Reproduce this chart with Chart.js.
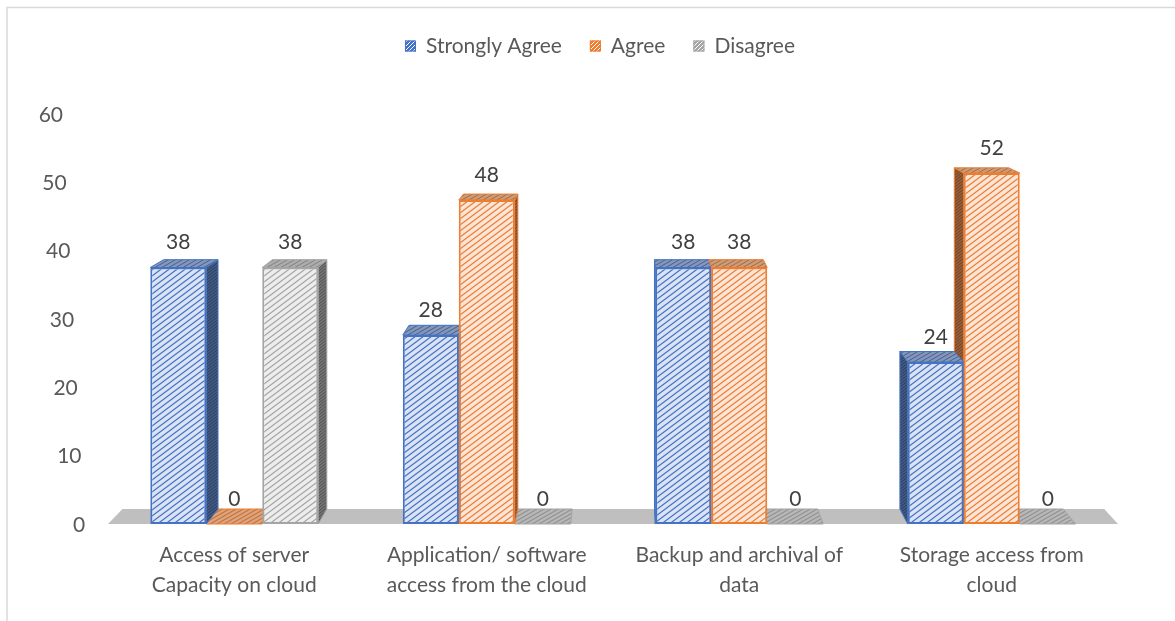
<!DOCTYPE html>
<html>
<head>
<meta charset="utf-8">
<title>Cloud usage survey</title>
<script src="https://cdn.jsdelivr.net/npm/chart.js@4.4.1/dist/chart.umd.min.js"></script>
<style>
  html, body { margin: 0; padding: 0; background: #fff; }
  canvas { display: block; }
</style>
</head>
<body>
<canvas id="surveyChart" width="1175" height="621"></canvas>
<script>
const categories = [
  ["Access of server", "Capacity on cloud"],
  ["Application/ software", "access from the cloud"],
  ["Backup and archival of", "data"],
  ["Storage access from", "cloud"],
];
const seriesNames = ["Strongly Agree", "Agree", "Disagree"];
const stronglyAgree = [38, 28, 38, 24];
const agree = [0, 48, 38, 52];
const disagree = [38, 0, 0, 0];
const yTicks = [0, 10, 20, 30, 40, 50, 60];

const FONT = "Lato, 'Liberation Sans', sans-serif";
const FONT_SIZE = 21;
const TEXT = "#595959";
const LABEL = "#404040";
const lineColors = ["#4472C4", "#ED7D31", "#A5A5A5"];
const faceColors = ["#DAE3F3", "#FBE5D6", "#EDEDED"];

// back face of every column is pulled toward this point
const VP = { x: 626, y: -12 };
const DEPTH = 0.028;

function mix(a, b, t) {
  const pa = [1, 3, 5].map((k) => parseInt(a.substr(k, 2), 16));
  const pb = [1, 3, 5].map((k) => parseInt(b.substr(k, 2), 16));
  return "rgb(" + pa.map((v, k) => Math.round(v * (1 - t) + pb[k] * t)).join(",") + ")";
}

// diagonal hatch tile, lines running bottom-left to top-right
function hatch(bg, fg, w, h, lw) {
  const c = document.createElement("canvas");
  c.width = w;
  c.height = h;
  const g = c.getContext("2d");
  g.fillStyle = bg;
  g.fillRect(0, 0, w, h);
  g.strokeStyle = fg;
  g.lineWidth = lw;
  g.beginPath();
  g.moveTo(0, h); g.lineTo(w, 0);
  g.moveTo(-w / 2, h / 2); g.lineTo(w / 2, -h / 2);
  g.moveTo(w / 2, 1.5 * h); g.lineTo(1.5 * w, h / 2);
  g.stroke();
  return g.createPattern(c, "repeat");
}

const fronts = lineColors.map((c, i) => hatch(faceColors[i], c, 8, 6, 1.2));
const sides = lineColors.map((c) => hatch(mix(c, "#404040", 0.5), mix(c, "#202020", 0.6), 4, 3, 1));
const tops = lineColors.map((c) => hatch(mix(c, "#b0b0b0", 0.6), mix(c, "#404040", 0.35), 7, 4, 1));
const slabs = lineColors.map((c) => hatch(mix(c, "#c8c8c8", 0.55), mix(c, "#505050", 0.2), 7, 4, 1.2));
const keys = lineColors.map((c) => hatch(c, "#ffffff", 4, 4, 1));

function back(x, y) {
  return [x + (VP.x - x) * DEPTH, y + (VP.y - y) * DEPTH];
}

function poly(ctx, pts, fill, stroke) {
  ctx.beginPath();
  pts.forEach((p, k) => (k ? ctx.lineTo(p[0], p[1]) : ctx.moveTo(p[0], p[1])));
  ctx.closePath();
  ctx.fillStyle = fill;
  ctx.fill();
  if (stroke) {
    ctx.lineWidth = 1;
    ctx.strokeStyle = stroke;
    ctx.stroke();
  }
}

function columns(chart) {
  const cols = [];
  chart.data.datasets.forEach((ds, i) => {
    chart.getDatasetMeta(i).data.forEach((bar, j) => {
      const p = bar.getProps(["x", "y", "base", "width"], true);
      cols.push({ i, x: p.x, l: p.x - p.width / 2, r: p.x + p.width / 2, t: p.y, b: p.base, v: ds.data[j] });
    });
  });
  return cols;
}

const columns3d = {
  id: "columns3d",
  beforeDraw(chart) {
    const ctx = chart.ctx;
    ctx.save();
    ctx.strokeStyle = "#D9D9D9";
    ctx.lineWidth = 1.5;
    ctx.beginPath();
    ctx.moveTo(7, chart.height);
    ctx.lineTo(7, 7.5);
    ctx.lineTo(chart.width, 7.5);
    ctx.stroke();
    ctx.restore();
  },
  beforeDatasetsDraw(chart) {
    const ctx = chart.ctx;
    const area = chart.chartArea;
    const y0 = chart.scales.y.getPixelForValue(0);
    ctx.save();
    // floor
    poly(ctx, [[area.left, y0], [area.right, y0], back(area.right, y0), back(area.left, y0)], "#BFBFBF");

    const cols = columns(chart);
    const top = (c) => [[c.l, c.t], [c.r, c.t], back(c.r, c.t), back(c.l, c.t)];
    const side = (c) => {
      let x = null;
      if (c.r <= VP.x) x = c.r;
      else if (c.l >= VP.x) x = c.l;
      return x === null ? null : [[x, c.t], [x, c.b], back(x, c.b), back(x, c.t)];
    };
    cols.filter((c) => c.v === 0).forEach((c) => poly(ctx, top(c), slabs[c.i], lineColors[c.i]));
    cols.filter((c) => c.v > 0).forEach((c) => {
      const s = side(c);
      if (s) poly(ctx, s, sides[c.i], lineColors[c.i]);
    });
    cols.filter((c) => c.v > 0).forEach((c) => poly(ctx, top(c), tops[c.i], lineColors[c.i]));
    ctx.restore();
  },
  afterDraw(chart) {
    const ctx = chart.ctx;
    const yScale = chart.scales.y;
    ctx.save();
    ctx.font = FONT_SIZE + "px " + FONT;
    ctx.textBaseline = "middle";

    // value labels
    ctx.fillStyle = LABEL;
    ctx.textAlign = "center";
    columns(chart).forEach((c) => ctx.fillText(String(c.v), c.x, c.t - 25));

    // value axis, leaning with the perspective
    ctx.fillStyle = TEXT;
    ctx.textAlign = "right";
    yTicks.forEach((v) => {
      const py = yScale.getPixelForValue(v) - 4 + ((60 - v) * 5) / 60;
      ctx.fillText(String(v), 63 + (60 - v) * 0.37, py);
    });

    // legend
    ctx.textAlign = "left";
    const widths = seriesNames.map((n) => 21 + ctx.measureText(n).width);
    const total = widths.reduce((a, b) => a + b, 0) + 28 * (seriesNames.length - 1);
    let x = 600 - total / 2;
    const ly = 46;
    seriesNames.forEach((n, i) => {
      ctx.fillStyle = keys[i];
      ctx.fillRect(x, ly - 5.5, 11, 11);
      ctx.strokeStyle = lineColors[i];
      ctx.lineWidth = 1;
      ctx.strokeRect(x + 0.5, ly - 5, 10, 10);
      ctx.fillStyle = TEXT;
      ctx.fillText(n, x + 21, ly);
      x += widths[i] + 28;
    });
    ctx.restore();
  },
};

const seriesData = [stronglyAgree, agree, disagree];

new Chart(document.getElementById("surveyChart"), {
  type: "bar",
  data: {
    labels: categories,
    datasets: seriesNames.map((name, i) => ({
      label: name,
      data: seriesData[i],
      backgroundColor: fronts[i],
      borderColor: lineColors[i],
      borderWidth: 2,
      borderSkipped: false,
      categoryPercentage: 0.665,
      barPercentage: 1,
    })),
  },
  options: {
    responsive: false,
    animation: false,
    devicePixelRatio: 1,
    layout: { padding: { top: 119, left: 108, right: 57, bottom: 0 } },
    scales: {
      x: {
        grid: { display: false, drawTicks: false },
        border: { display: false },
        ticks: {
          color: TEXT,
          font: { family: FONT, size: FONT_SIZE, lineHeight: 30 / FONT_SIZE },
          padding: 16,
          maxRotation: 0,
          autoSkip: false,
        },
        afterFit: (s) => { s.height = 97; },
      },
      y: {
        display: false,
        min: 0,
        max: 60,
      },
    },
    plugins: {
      legend: { display: false },
      tooltip: { enabled: false },
    },
  },
  plugins: [columns3d],
});
</script>
</body>
</html>
